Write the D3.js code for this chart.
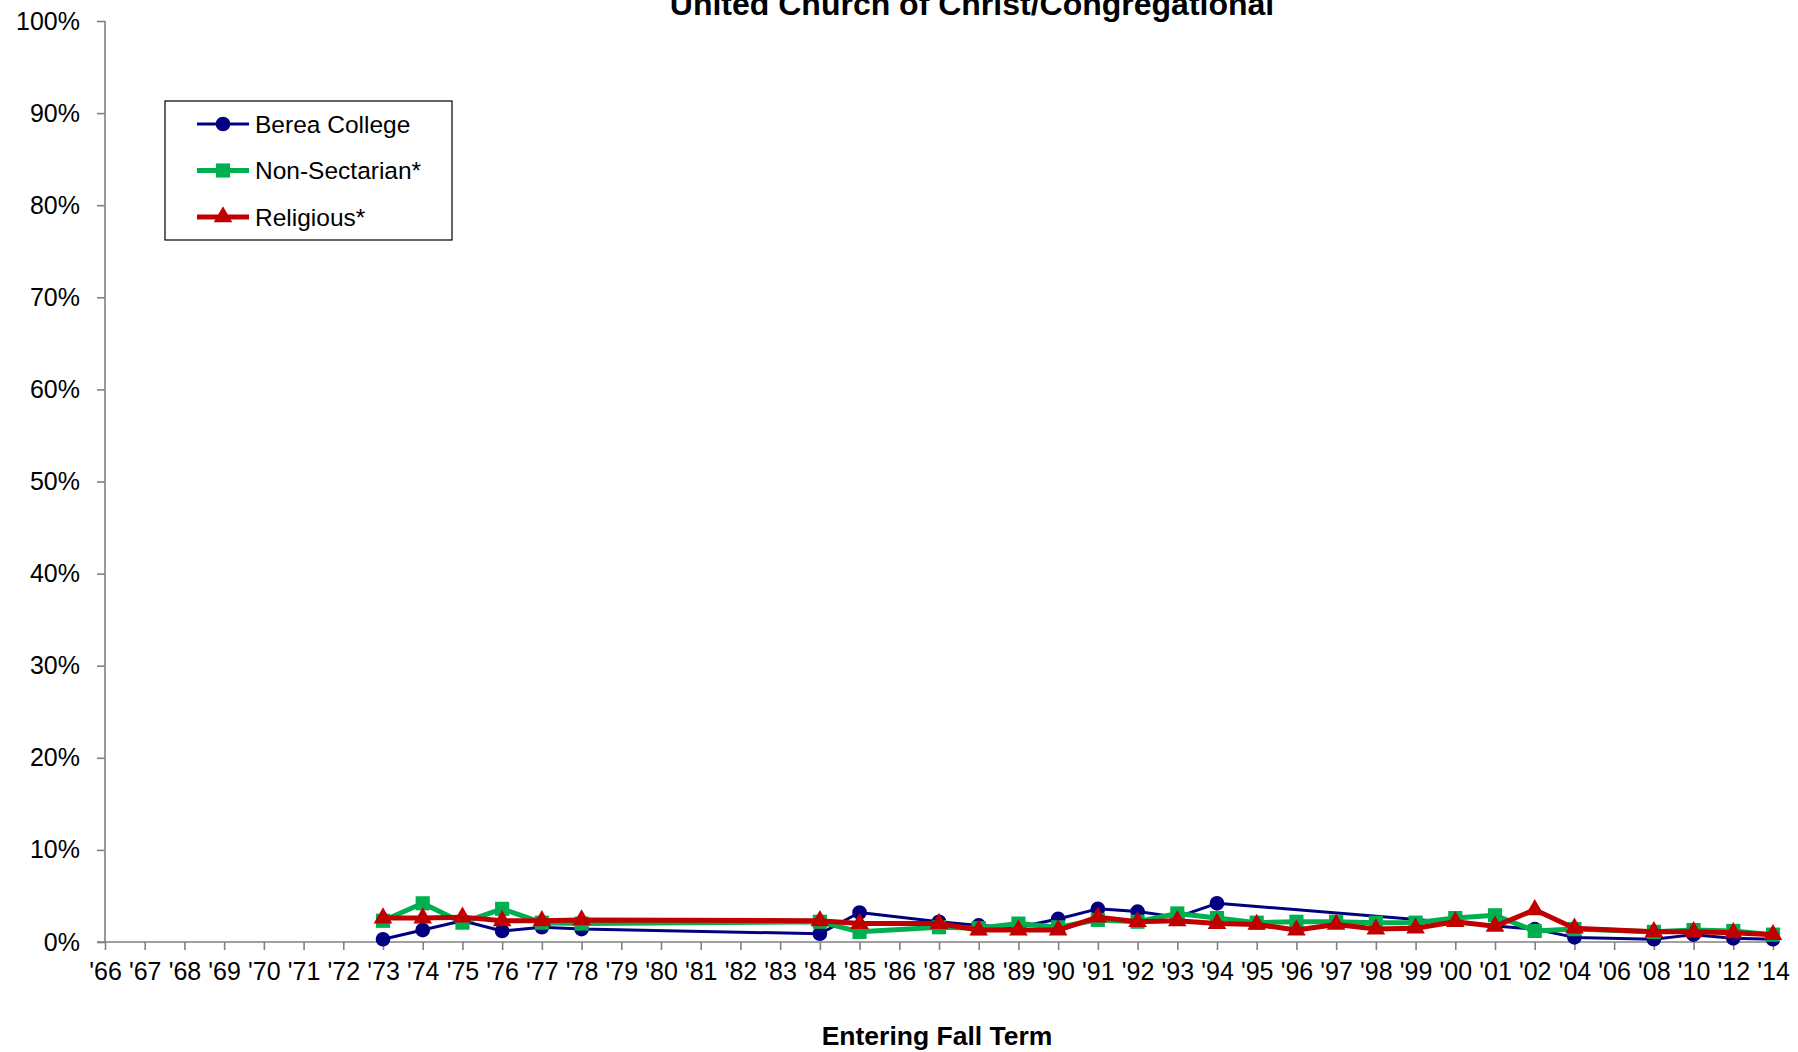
<!DOCTYPE html>
<html>
<head>
<meta charset="utf-8">
<script src="https://cdn.jsdelivr.net/npm/d3@7"></script>
<style>
  html, body { margin: 0; padding: 0; background: #fff; }
  svg { display: block; font-family: "Liberation Sans", Arial, sans-serif; }
</style>
</head>
<body>
<svg id="chart" width="1798" height="1052"></svg>
<script>
const categories = ["'66","'67","'68","'69","'70","'71","'72","'73","'74","'75","'76","'77","'78","'79","'80","'81","'82","'83","'84","'85","'86","'87","'88","'89","'90","'91","'92","'93","'94","'95","'96","'97","'98","'99","'00","'01","'02","'04","'06","'08","'10","'12","'14"];

const bereaCollege = [null,null,null,null,null,null,null, 0.3,1.3,2.3,1.2,1.6,1.4, null,null,null,null,null, 0.9,3.2,null,2.2,1.8,1.6,2.5,3.6,3.3,2.7,4.2, null,null,null,null,null,null,null, 1.4,0.5,null,0.3,0.8,0.4,0.3];
const nonSectarian = [null,null,null,null,null,null,null, 2.3,4.2,2.1,3.6,2.1,2.0, null,null,null,null,null, 2.2,1.1,null,1.6,1.5,2.0,1.6,2.4,2.2,3.1,2.6,2.1,2.2,2.2,2.1,2.1,2.6,2.9,1.2,1.4,null,1.1,1.3,1.2,0.8];
const religious = [null,null,null,null,null,null,null, 2.6,2.6,2.7,2.3,2.3,2.4, null,null,null,null,null, 2.3,2.0,null,2.0,1.3,1.3,1.3,2.7,2.2,2.3,2.0,1.9,1.3,1.9,1.4,1.5,2.2,1.7,3.5,1.5,null,1.1,1.1,1.0,0.8];

const yTicks = [0,10,20,30,40,50,60,70,80,90,100];
const seriesNames = ["Berea College","Non-Sectarian*","Religious*"];
const titleText = "United Church of Christ/Congregational";
const xTitleText = "Entering Fall Term";

const svg = d3.select("#chart");
const FONT = 25;

const x = d3.scalePoint().domain(categories).range([105, 1773]);
const y = d3.scaleLinear().domain([0, 100]).range([942, 21]);

// Title (top is clipped by the image edge in the reference)
svg.append("text").attr("x", 972).attr("y", 15).attr("text-anchor", "middle")
  .attr("font-size", 32).attr("font-weight", "bold").text(titleText);

// Y axis
const yAxis = svg.append("g").attr("transform", "translate(105,0)")
  .call(d3.axisLeft(y).tickValues(yTicks).tickFormat(d => d + "%").tickSize(8).tickPadding(17));
yAxis.select(".domain").attr("stroke", "#808080").attr("stroke-width", 1.6).attr("d", "M0,21V942");
yAxis.selectAll(".tick line").attr("stroke", "#808080").attr("stroke-width", 1.6);
yAxis.selectAll(".tick text").attr("font-size", FONT).attr("fill", "#000").attr("font-family", "Liberation Sans, Arial, sans-serif");

// X axis
const xAxis = svg.append("g").attr("transform", "translate(0,942)")
  .call(d3.axisBottom(x).tickSize(8).tickPadding(12));
xAxis.select(".domain").attr("stroke", "#808080").attr("stroke-width", 1.6).attr("d", "M97,0H1773");
xAxis.selectAll(".tick line").attr("stroke", "#808080").attr("stroke-width", 1.6);
xAxis.selectAll(".tick text").attr("font-size", FONT).attr("fill", "#000").attr("font-family", "Liberation Sans, Arial, sans-serif");

// X title
svg.append("text").attr("x", 937).attr("y", 1045).attr("text-anchor", "middle")
  .attr("font-size", 26.5).attr("font-weight", "bold").text(xTitleText);

const series = [
  { name: seriesNames[0], values: bereaCollege, color: "#000080", width: 3, symbol: d3.symbolCircle, size: 170 },
  { name: seriesNames[1], values: nonSectarian, color: "#00B050", width: 5, symbol: d3.symbolSquare, size: 200 },
  { name: seriesNames[2], values: religious, color: "#C00000", width: 5, symbol: d3.symbolTriangle, size: 150 }
];

const line = d3.line().x(d => x(d.c)).y(d => y(d.v));

series.forEach(s => {
  const pts = categories.map((c, i) => ({ c, v: s.values[i] })).filter(d => d.v !== null);
  svg.append("path").datum(pts).attr("d", line).attr("fill", "none")
    .attr("stroke", s.color).attr("stroke-width", s.width).attr("stroke-linejoin", "round");
  svg.append("g").selectAll("path").data(pts).join("path")
    .attr("d", d3.symbol().type(s.symbol).size(s.size))
    .attr("transform", d => `translate(${x(d.c)},${y(d.v)})`)
    .attr("fill", s.color);
});

// Legend
const lg = svg.append("g");
lg.append("rect").attr("x", 165).attr("y", 101).attr("width", 287).attr("height", 139)
  .attr("fill", "#fff").attr("stroke", "#000").attr("stroke-width", 1.2);
series.forEach((s, i) => {
  const cy = 124 + i * 46.5;
  lg.append("line").attr("x1", 197).attr("x2", 249).attr("y1", cy).attr("y2", cy)
    .attr("stroke", s.color).attr("stroke-width", s.width);
  lg.append("path").attr("d", d3.symbol().type(s.symbol).size(s.size))
    .attr("transform", `translate(223,${cy})`).attr("fill", s.color);
  lg.append("text").attr("x", 255).attr("y", cy).attr("dy", "0.35em")
    .attr("font-size", 24.5).text(s.name);
});
</script>
</body>
</html>
